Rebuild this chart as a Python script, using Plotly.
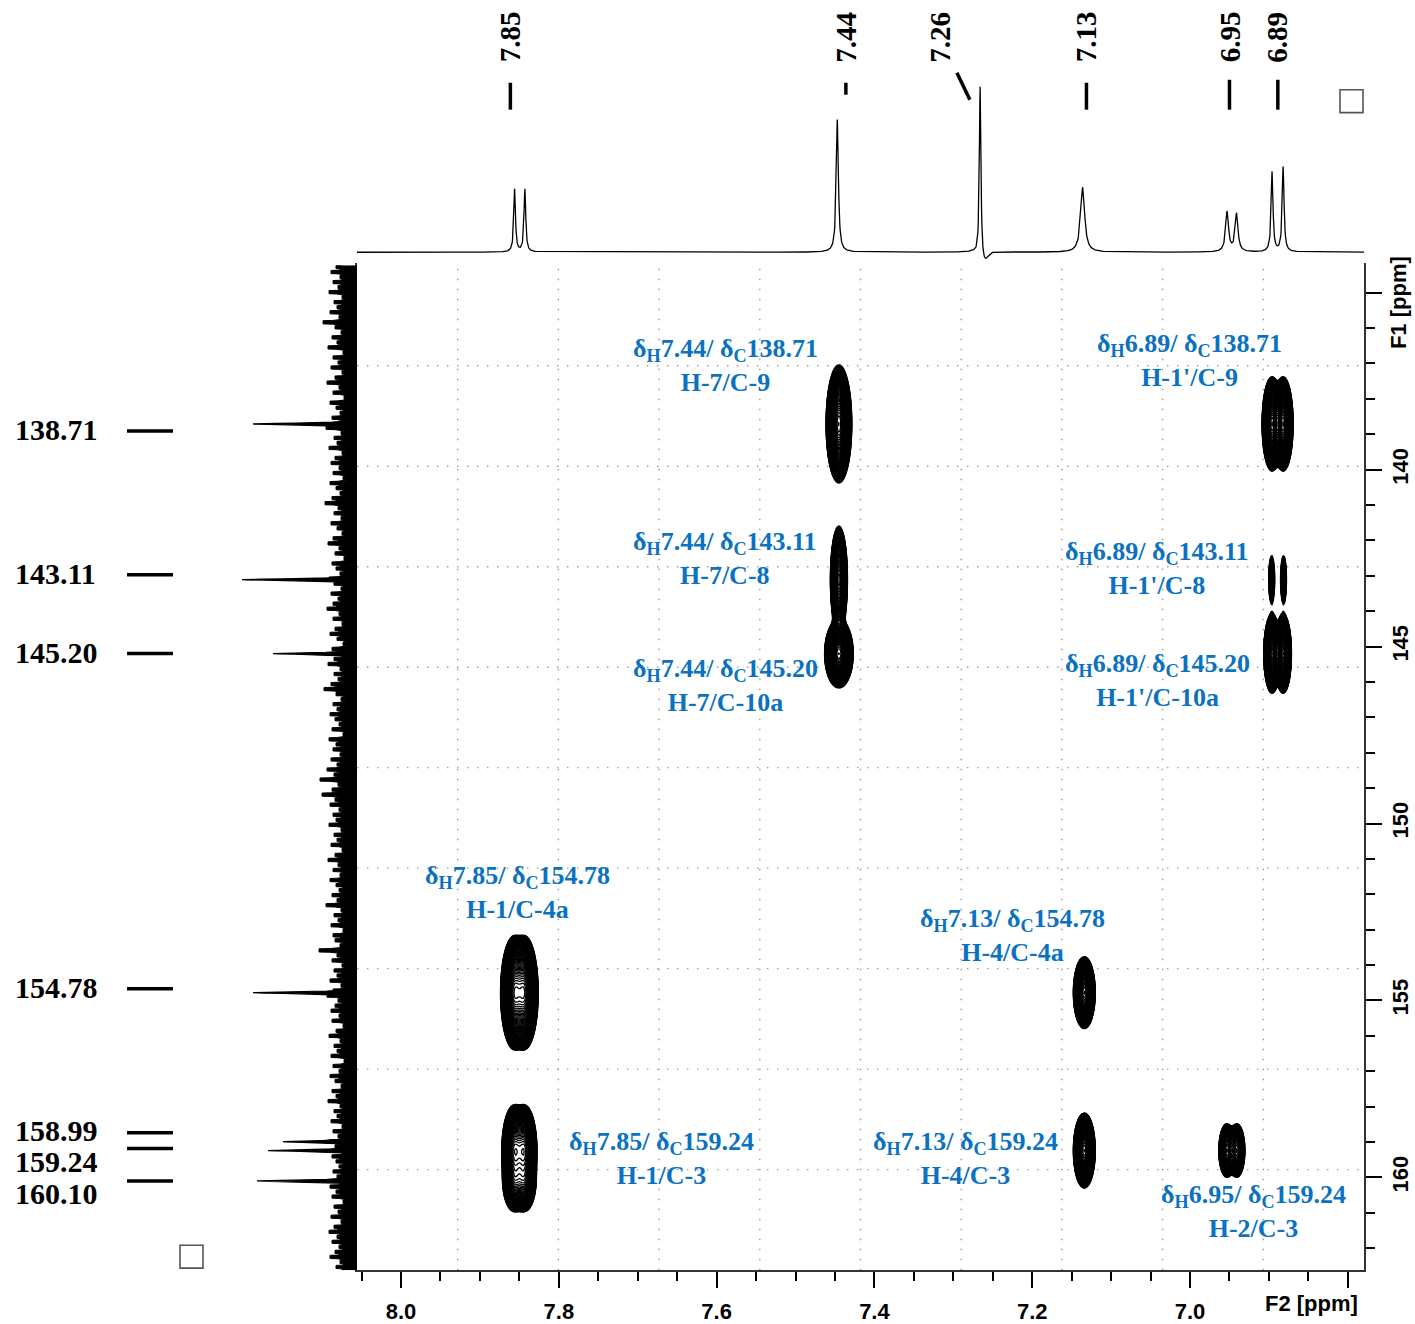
import numpy as np
import plotly.graph_objects as go

W, H = 1415, 1324

# ---------------- data ----------------
# 1H projection (top): line positions (ppm), heights, half widths (ppm)
h1_shift = [7.856, 7.843, 7.447, 7.266, 7.136, 6.953, 6.941, 6.896, 6.882]
h1_height = [63, 63, 133, 176, 65, 40, 38, 80, 85]
h1_hwhm = [0.0013, 0.0013, 0.0016, 0.0012, 0.0030, 0.0022, 0.0022, 0.0014, 0.0014]
# solvent baseline dip around CDCl3
dip_shift, dip_depth, dip_width = 7.262, 13, 0.0055

# 13C projection (left)
c13_shift = [138.71, 143.11, 145.20, 154.78, 158.99, 159.24, 160.10]
c13_height = [104, 115, 84, 104, 74, 89, 100]
c13_hwhm = [0.03, 0.03, 0.03, 0.03, 0.03, 0.03, 0.03]
# projection noise depth (top to bottom)
c13_noise = [
    21, 26, 17, 24, 19, 28, 15, 23, 20, 27,
    18, 34, 22, 16, 25, 20, 29, 14, 24, 19,
    26, 15, 22, 30, 18, 24, 13, 27, 21, 17,
    25, 19, 31, 16, 23, 20, 28, 15, 22, 26,
    18, 24, 14, 27, 21, 17, 25, 32, 19, 23,
    16, 26, 20, 15, 24, 29, 18, 22, 13, 25,
    21, 17, 28, 23, 16, 26, 19, 24, 30, 18,
    24, 15, 22, 27, 20, 14, 25, 18, 23, 29,
    17, 23, 19, 26, 33, 21, 16, 24, 20, 27,
    22, 18, 25, 14, 28, 21, 24, 17, 26, 20,
    30, 23, 37, 19, 25, 35, 22, 27, 18, 24,
    21, 28, 16, 23, 20, 26, 15, 22, 29, 19,
    24, 17, 27, 21, 18, 25, 20, 31, 16, 23,
    19, 26, 14, 24, 22, 17, 38, 20, 25, 15,
    23, 20, 27, 16, 24, 30, 19, 22, 26, 18,
    25, 14, 21, 28, 17, 23, 20, 26, 13, 24,
    18, 27, 22, 16, 25, 21, 29, 17, 23, 20,
    26, 15, 24, 19, 28, 22, 16, 25, 21, 18,
    24, 20, 17, 27, 21, 25, 14, 23, 19, 26,
    16, 23, 28, 20, 25, 18, 22, 27, 17, 21,
]

# HMBC cross peaks: dH, dC, amplitude, doublet splitting (ppm), widths (ppm)
xp_h = [7.445, 7.445, 7.445, 6.889, 6.889, 6.889, 7.850, 7.850, 7.850, 7.134, 7.134, 6.947]
xp_c = [138.71, 143.11, 145.20, 138.71, 143.11, 145.20, 154.78, 159.24, 160.10, 154.78, 159.24, 159.24]
xp_amp = [100, 60, 100, 100, 3, 100, 100, 60, 30, 100, 100, 20]
xp_j = [0, 0, 0, 0.014, 0.015, 0.014, 0.0127, 0.0127, 0.0127, 0, 0, 0.0127]
xp_wh = [0.0054, 0.0038, 0.0060, 0.0042, 0.0026, 0.0035, 0.0058, 0.0056, 0.0056, 0.0046, 0.0046, 0.0042]
xp_wc = [0.55, 0.53, 0.32, 0.44, 0.46, 0.37, 0.53, 0.45, 0.33, 0.335, 0.35, 0.31]

# labels
lab_h = ["7.44", "7.44", "7.44", "6.89", "6.89", "6.89", "7.85", "7.85", "7.13", "7.13", "6.95"]
lab_c = ["138.71", "143.11", "145.20", "138.71", "143.11", "145.20", "154.78", "159.24", "154.78", "159.24", "159.24"]
lab_assign = ["H-7/C-9", "H-7/C-8", "H-7/C-10a", "H-1'/C-9", "H-1'/C-8", "H-1'/C-10a",
              "H-1/C-4a", "H-1/C-3", "H-4/C-4a", "H-4/C-3", "H-2/C-3"]
top_labels = ["7.85", "7.44", "7.26", "7.13", "6.95", "6.89"]
left_labels = ["138.71", "143.11", "145.20", "154.78", "158.99", "159.24", "160.10"]

x_ticks = [8.0, 7.8, 7.6, 7.4, 7.2, 7.0, 6.8]
x_ticktext = ["8.0", "7.8", "7.6", "7.4", "7.2", "7.0", ""]
y_ticks = [135, 140, 145, 150, 155, 160]
y_ticktext = ["", "140", "145", "150", "155", "160"]

# ---------------- geometry ----------------
X0, X1 = 357, 1364          # plot area px
Y0, Y1 = 266, 1274
XR = [8.0558, 6.7795]
YT, YB = 134.225, 162.62


def px(x):
    return x / W


def py(y):
    return 1 - y / H


def xpx(ppm):
    return X0 + (XR[0] - ppm) / (XR[0] - XR[1]) * (X1 - X0)


def ypx(ppm):
    return Y0 + (ppm - YT) / (YB - YT) * (Y1 - Y0)


fig = go.Figure()

# ---------------- 2D contours ----------------
xs = np.linspace(XR[1], XR[0], 800)
ys = np.linspace(YT, YB, 420)
Xg, Yg = np.meshgrid(xs, ys)
Z = np.zeros_like(Xg)
for h, c, a, j, wh, wc in zip(xp_h, xp_c, xp_amp, xp_j, xp_wh, xp_wc):
    gy = np.exp(-0.5 * ((Yg - c) / wc) ** 2)
    if j > 0:
        gx = np.exp(-0.5 * ((Xg - (h + j / 2)) / wh) ** 2) + np.exp(-0.5 * ((Xg - (h - j / 2)) / wh) ** 2)
    else:
        gx = np.exp(-0.5 * ((Xg - h) / wh) ** 2)
    Z += a * gx * gy
logZ = np.log10(Z + 1e-4).astype(np.float32)

fig.add_trace(go.Contour(
    x=xs, y=ys, z=logZ, xaxis="x", yaxis="y",
    contours=dict(start=0, end=2.3, size=0.035, coloring="lines"),
    colorscale=[[0, "#000"], [1, "#000"]], showscale=False,
    line=dict(width=1.3), hoverinfo="skip",
))

# ---------------- 1H projection ----------------
hx = np.sort(np.concatenate([np.linspace(XR[1], XR[0], 3000), np.array(h1_shift)]))
hy = np.zeros_like(hx)
for s, hh, w in zip(h1_shift, h1_height, h1_hwhm):
    hy += hh * w ** 2 / ((hx - s) ** 2 + w ** 2)
hy -= dip_depth * np.exp(-0.5 * ((hx - dip_shift) / dip_width) ** 2)
fig.add_trace(go.Scatter(x=hx, y=hy, xaxis="x2", yaxis="y2", mode="lines",
                         line=dict(color="#000", width=1.3), hoverinfo="skip"))

# ---------------- 13C projection ----------------
# noise: each value drawn as a short horizontal bar over a solid core
nP = (YB - YT) / len(c13_noise)
ny, nx = [], []
for i, d in enumerate(c13_noise):
    y0 = YT + i * nP
    core = 0.72 * d
    ny += [y0, y0 + 0.05 * nP, y0 + 0.68 * nP, y0 + 0.73 * nP]
    nx += [core, d, d, core]
ny.append(YB)
nx.append(0.72 * c13_noise[-1])
fig.add_trace(go.Scatter(x=nx, y=ny, xaxis="x3", yaxis="y3", mode="lines",
                         line=dict(color="#000", width=1), fill="tozerox",
                         fillcolor="#000", hoverinfo="skip"))
cy = np.sort(np.concatenate([np.linspace(YT, YB, 3000), np.array(c13_shift)]))
cx = np.zeros_like(cy)
for s, hh, w in zip(c13_shift, c13_height, c13_hwhm):
    cx = np.maximum(cx, hh * w ** 2 / ((cy - s) ** 2 + w ** 2))
fig.add_trace(go.Scatter(x=cx, y=cy, xaxis="x3", yaxis="y3", mode="lines",
                         line=dict(color="#000", width=1.2), fill="tozerox",
                         fillcolor="#000", hoverinfo="skip"))

# ---------------- annotations ----------------
ann = []
blue = "#0a72c0"
serif = "Liberation Serif, Times New Roman, serif"
lab_pos = [(725, 367), (725, 560), (725, 688), (1189, 362), (1157, 570), (1157, 683),
           (517, 895), (661, 1162), (1013, 938), (965, 1162), (1253, 1215)]
for hval, cval, asg, (lx, ly) in zip(lab_h, lab_c, lab_assign, lab_pos):
    ann.append(dict(
        x=px(lx), y=py(ly), xref="paper", yref="paper", xanchor="center", yanchor="middle",
        text="δ<sub>H</sub>%s/ δ<sub>C</sub>%s<br>%s" % (hval, cval, asg),
        showarrow=False, align="center",
        font=dict(family=serif, size=26, color=blue, weight="bold")))

# top peak labels
top_text_shift = [-9, 3, -45, -2, 0, 0]
for t, sh in zip(top_labels, top_text_shift):
    ann.append(dict(x=px(xpx(float(t)) + sh), y=py(37), xref="paper", yref="paper",
                    xanchor="center", yanchor="middle", text=t, textangle=-90, showarrow=False,
                    font=dict(family=serif, size=29, color="#000", weight="bold")))

# left carbon labels
left_text_shift = [6, -6, -1, -5, -11, 11, 13]
for t, sh in zip(left_labels, left_text_shift):
    ann.append(dict(x=px(13), y=py(ypx(float(t)) + sh), xref="paper", yref="paper",
                    xanchor="left", yanchor="middle", text=t, showarrow=False,
                    font=dict(family=serif, size=30, color="#000", weight="bold")))

sans = "Liberation Sans Narrow, Arial Narrow, Liberation Sans, Arial, sans-serif"
ann.append(dict(x=px(1311), y=py(1307), xref="paper", yref="paper", xanchor="center",
                yanchor="middle", text="F2 [ppm]", showarrow=False,
                font=dict(family=sans, size=22, color="#000", weight="bold")))
ann.append(dict(x=px(1398), y=py(304), xref="paper", yref="paper", xanchor="center",
                yanchor="middle", text="F1 [ppm]", textangle=-90, showarrow=False,
                font=dict(family=sans, size=22, color="#000", weight="bold")))

# ---------------- shapes ----------------
shapes = []
grid_style = dict(color="#9a9a9a", width=1.4, dash="1.4px,8.6px")
for i in range(1, 10):
    f = i / 10
    shapes.append(dict(type="line", xref="x domain", yref="y domain", x0=f, x1=f, y0=0, y1=1,
                       line=grid_style, layer="below"))
    shapes.append(dict(type="line", xref="x domain", yref="y domain", x0=0, x1=1, y0=f, y1=f,
                       line=grid_style, layer="below"))

# top label marks
mark_shift = [-9, 3, 0, -1, 0, 1]
mark_top = [83, 83, 0, 83, 80, 80]
mark_bot = [110, 95, 0, 110, 110, 110]
for t, sh, yt, yb in zip(top_labels, mark_shift, mark_top, mark_bot):
    xm = xpx(float(t)) + sh
    if t == "7.26":
        shapes.append(dict(type="line", xref="paper", yref="paper", x0=px(xm - 28), x1=px(xm - 15),
                           y0=py(73), y1=py(100), line=dict(color="#000", width=3.5)))
    else:
        shapes.append(dict(type="line", xref="paper", yref="paper", x0=px(xm), x1=px(xm),
                           y0=py(yt), y1=py(yb), line=dict(color="#000", width=3.5)))

# left label marks
left_line_shift = [7, -5, 0, -4, -9, -2, 0]
for t, sh in zip(left_labels, left_line_shift):
    yl = ypx(float(t)) + sh
    shapes.append(dict(type="line", xref="paper", yref="paper", x0=px(127), x1=px(173),
                       y0=py(yl), y1=py(yl), line=dict(color="#000", width=3.5)))

# small boxes
for (bx, by) in [(1340, 90), (180, 1249)]:
    shapes.append(dict(type="rect", xref="paper", yref="paper", x0=px(bx), x1=px(bx + 23),
                       y0=py(by), y1=py(by + 23), line=dict(color="#555", width=1.6)))

tickfont = dict(family=sans, size=22, color="#000", weight="bold")
fig.update_layout(
    width=W, height=H, margin=dict(l=0, r=0, t=0, b=0),
    paper_bgcolor="white", plot_bgcolor="white", showlegend=False,
    xaxis=dict(domain=[px(X0), px(X1)], range=XR, anchor="y", tickmode="array",
               tickvals=x_ticks, ticktext=x_ticktext, ticks="outside", ticklen=16, tickwidth=1.5,
               tickcolor="#000", minor=dict(dtick=0.05, ticklen=9, tickwidth=1.5, tickcolor="#000", ticks="outside"),
               showline=True, mirror=True, linecolor="#333", linewidth=2, showgrid=False,
               zeroline=False, tickfont=tickfont, ticklabelstandoff=4),
    yaxis=dict(domain=[py(Y1), py(Y0)], range=[YB, YT], anchor="x", side="right", tickmode="array",
               tickvals=y_ticks, ticktext=y_ticktext, tickangle=-90, ticks="outside", ticklen=16,
               tickwidth=1.5, tickcolor="#000",
               minor=dict(dtick=1, ticklen=9, tickwidth=1.5, tickcolor="#000", ticks="outside"),
               showline=True, mirror=True, linecolor="#333", linewidth=2, showgrid=False,
               zeroline=False, tickfont=tickfont),
    xaxis2=dict(domain=[px(X0), px(X1)], range=XR, anchor="y2", visible=False),
    yaxis2=dict(domain=[py(268), py(60)], range=[-15, 193], anchor="x2", visible=False),
    xaxis3=dict(domain=[px(230), px(X0)], range=[127, 0], anchor="y3", visible=False),
    yaxis3=dict(domain=[py(Y1), py(Y0)], range=[YB, YT], anchor="x3", visible=False),
    annotations=ann, shapes=shapes,
)

fig.write_html("out.html")
